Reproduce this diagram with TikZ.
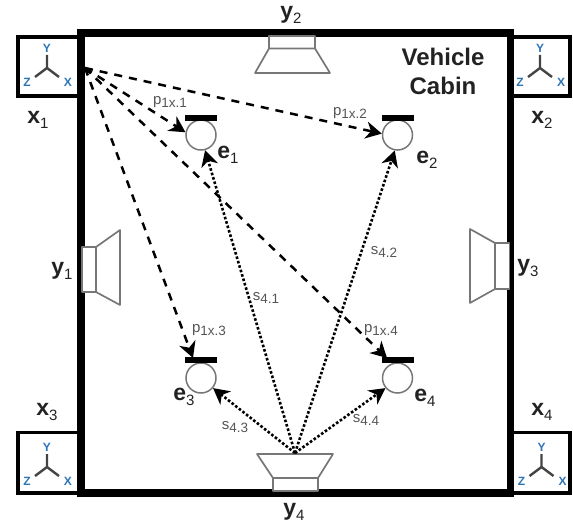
\documentclass[tikz,border=0pt]{standalone}
\usepackage{fontspec}
\setmainfont{Liberation Sans}
\usetikzlibrary{arrows.meta}
\definecolor{axblue}{HTML}{2E75B6}
\definecolor{spk}{HTML}{777777}
\definecolor{axgrey}{HTML}{444444}
\definecolor{lab}{HTML}{222222}
\definecolor{minor}{HTML}{555555}
\newcommand{\Blab}[2]{{\fontsize{23}{25}\selectfont\bfseries #1\raisebox{-5pt}{\fontsize{15}{17}\selectfont\mdseries #2}}}
\newcommand{\Slab}[2]{{\fontsize{15}{17}\selectfont #1\raisebox{-3pt}{\fontsize{13.5}{15}\selectfont #2}}}
\tikzset{
  x=1pt,y=-1pt,
  frame/.style={draw=black,line width=7.5pt,line join=miter},
  sensorbox/.style={draw=black,line width=3.5pt,fill=white},
  speaker/.style={draw=spk,line width=1.7pt,fill=white,line join=round},
  head/.style={circle,draw=spk,line width=1.5pt,minimum size=30pt,inner sep=0pt,fill=white},
  headbar/.style={draw=black,fill=black,minimum width=31pt,minimum height=5.5pt,inner sep=0pt,line width=0pt},
  tipstyle/.style={-{Stealth[length=16pt,width=17pt,inset=5pt]}},
  pline/.style={tipstyle,line width=2.5pt,dash pattern=on 8pt off 7pt},
  sline/.style={tipstyle,line width=2.6pt,dash pattern=on 2.6pt off 2pt},
  biglab/.style={text=lab,inner sep=0pt},
  smalllab/.style={text=minor,inner sep=0pt},
  axletter/.style={text=axblue,inner sep=0pt,font=\bfseries\fontsize{12}{14}\selectfont},
  axes/.pic={
    \draw[draw=axgrey,line width=2.4pt] (0,-13) -- (0,0) (-12,9) -- (0,0) -- (12,9);
    \node[axletter] at (0,-20) {Y};
    \node[axletter] at (-20,14) {Z};
    \node[axletter] at (21,14) {X};
  }
}
\begin{document}
\begin{tikzpicture}
\useasboundingbox (0,0) rectangle (573,524);
% sensor boxes
\draw[sensorbox] (18,37) rectangle (81,96);
\draw[sensorbox] (510,37) rectangle (570,96);
\draw[sensorbox] (18,432.5) rectangle (81,493);
\draw[sensorbox] (510,432.5) rectangle (570,493);
% cabin
\draw[frame] (81,33) rectangle (510.5,493);
% axes
\pic at (47,68) {axes};
\pic at (540,68) {axes};
\pic at (47,467) {axes};
\pic at (541.5,467) {axes};
% speakers
\draw[speaker] (269,36) rectangle (315,48.5);
\draw[speaker] (269,48.5) -- (315,48.5) -- (330,73) -- (255,73) -- cycle;
\draw[speaker] (82,247) rectangle (96,292);
\draw[speaker] (96,247) -- (120,230) -- (120,305) -- (96,292) -- cycle;
\draw[speaker] (495,243) rectangle (509.5,289);
\draw[speaker] (495,243) -- (470,229) -- (470,303) -- (495,289) -- cycle;
\draw[speaker] (273,478) rectangle (318,491);
\draw[speaker] (273,478) -- (318,478) -- (333,454) -- (257,454) -- cycle;
% heads
\node[head] (e1) at (201,135) {};
\node[head] (e2) at (397.5,135) {};
\node[head] (e3) at (201,378) {};
\node[head] (e4) at (397.5,378) {};
\node[headbar] (b1) at (201,118) {};
\node[headbar] (b2) at (397.5,118) {};
\node[headbar] (b3) at (201,360) {};
\node[headbar] (b4) at (397.5,360) {};
% connector ends
\coordinate (mic) at (85,68);
\coordinate (src) at (295,453);
\coordinate (t3) at (193,358);
\coordinate (t4) at (387,358);
% connectors
\draw[pline] (mic) -- (e1.170);
\draw[pline] (mic) -- (e2.175);
\draw[pline] (mic) -- (t3);
\draw[pline] (mic) -- (t4);
\draw[sline] (src) -- (e1.-75);
\draw[sline] (src) -- (e2.-100);
\draw[sline] (src) -- (e3.-40);
\draw[sline] (src) -- (e4.-140);
% labels
\node[biglab] (lx1) at (38,120) {\Blab{x}{1}};
\node[biglab] (lx2) at (542,120) {\Blab{x}{2}};
\node[biglab] (lx3) at (47,412) {\Blab{x}{3}};
\node[biglab] (lx4) at (542,412) {\Blab{x}{4}};
\node[biglab] (ly1) at (62,271) {\Blab{y}{1}};
\node[biglab] (ly2) at (291,15) {\Blab{y}{2}};
\node[biglab] (ly3) at (528,268) {\Blab{y}{3}};
\node[biglab] (ly4) at (294,512) {\Blab{y}{4}};
\node[biglab] (le1) at (228,155) {\Blab{e}{1}};
\node[biglab] (le2) at (427,160) {\Blab{e}{2}};
\node[biglab] (le3) at (184,397) {\Blab{e}{3}};
\node[biglab] (le4) at (425,398) {\Blab{e}{4}};
\node[smalllab] (p1) at (170,102) {\Slab{p}{1x.1}};
\node[smalllab] (p2) at (350,113) {\Slab{p}{1x.2}};
\node[smalllab] (p3) at (209,330) {\Slab{p}{1x.3}};
\node[smalllab] (p4) at (381,330) {\Slab{p}{1x.4}};
\node[smalllab] (s1) at (266,298) {\Slab{s}{4.1}};
\node[smalllab] (s2) at (384,252) {\Slab{s}{4.2}};
\node[smalllab] (s3) at (235,427) {\Slab{s}{4.3}};
\node[smalllab] (s4) at (366,420) {\Slab{s}{4.4}};
\node[biglab,align=center,font=\bfseries\fontsize{24}{29}\selectfont] (cabin) at (443,71) {Vehicle\\Cabin};
\end{tikzpicture}
\end{document}
